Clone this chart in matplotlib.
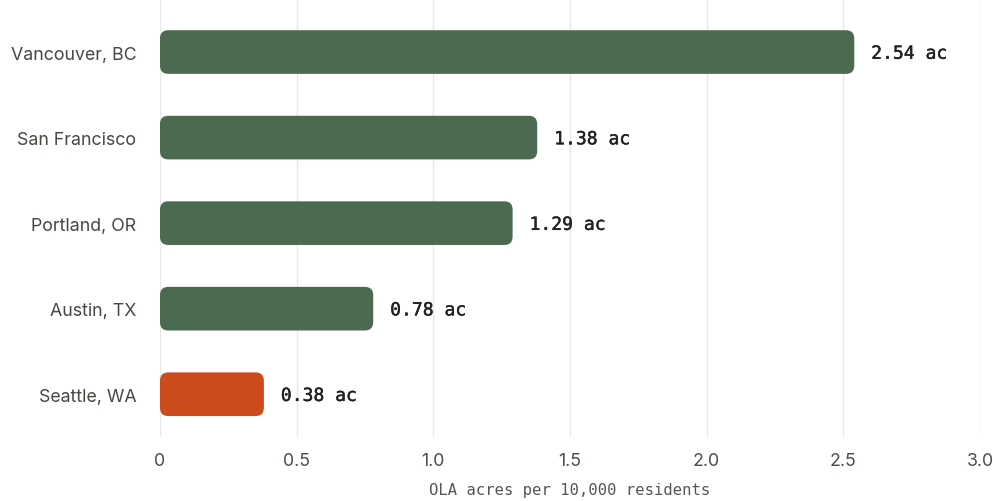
import matplotlib.pyplot as plt
import matplotlib.patheffects as pe
from matplotlib.patches import FancyBboxPatch

cities = ["Vancouver, BC", "San Francisco", "Portland, OR", "Austin, TX", "Seattle, WA"]
acres = [2.54, 1.38, 1.29, 0.78, 0.38]
colors = ["#4b6a50", "#4b6a50", "#4b6a50", "#4b6a50", "#cd4a1c"]
xticks = [0, 0.5, 1.0, 1.5, 2.0, 2.5, 3.0]
xticklabels = ["0", "0.5", "1.0", "1.5", "2.0", "2.5", "3.0"]

fig = plt.figure(figsize=(9.93, 5.02), dpi=100)
ax = fig.add_axes([160 / 993, 64 / 502, 820 / 993, 438 / 502])

h = 0.51
for i, (v, c) in enumerate(zip(acres, colors)):
    # rounded bar; aspect fixes the corner radius in pixel terms
    bar = FancyBboxPatch((0, i - h / 2), v, h,
                         boxstyle="round,pad=0,rounding_size=0.03",
                         mutation_aspect=3.2, fc=c, ec="none", zorder=2)
    ax.add_patch(bar)
    # regular mono, thickened a little with a thin outline
    ax.text(v + 0.062, i + 0.02, f"{v:.2f} ac", va="center", ha="left",
            family="DejaVu Sans Mono", fontsize=13, color="#222222",
            path_effects=[pe.withStroke(linewidth=0.3, foreground="#222222")])

ax.set_xlim(0, 3.0)
ax.set_ylim(4.5, -0.62)
ax.set_yticks(range(len(cities)))
ax.set_yticklabels(cities, family="Inter", fontsize=12.8, color="#4a4743")
ax.set_xticks(xticks)
ax.set_xticklabels(xticklabels, family="Inter", fontsize=12.8, color="#4f4c48")
ax.tick_params(length=0)
ax.tick_params(axis="y", pad=17)
ax.tick_params(axis="x", pad=11)
ax.grid(axis="x", color="#e9e9e9", lw=1, zorder=0)
ax.set_axisbelow(True)
for s in ax.spines.values():
    s.set_visible(False)

ax.set_xlabel("OLA acres per 10,000 residents", family="DejaVu Sans Mono",
              fontsize=11.2, color="#555555", labelpad=9)

fig.savefig("out.png", dpi=100)
